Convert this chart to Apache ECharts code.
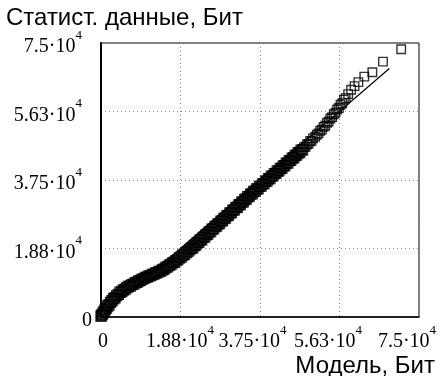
<!DOCTYPE html>
<html>
<head>
<meta charset="utf-8">
<script src="https://cdn.jsdelivr.net/npm/echarts@6/dist/echarts.min.js"></script>
<style>
  html, body { margin: 0; padding: 0; background: #fff; }
  #chart { width: 445px; height: 376px; }
</style>
</head>
<body>
<div id="chart"></div>
<script>
// Quantile pairs: model quantiles (x) against observed data quantiles (y), in bits.
const modelBits = [
  0, 150, 350, 550, 800, 1000, 1300, 1600, 1900, 2250, 2600, 2950, 3300, 3700, 4100, 4500, 4900, 5300, 5700, 6100,
  6500, 6900, 7300, 7700, 8100, 8500, 8900, 9300, 9700, 10100, 10500, 10900, 11300, 11700, 12100, 12500, 12900, 13300, 13700, 14100,
  14500, 14900, 15300, 15700, 16100, 16500, 16900, 17300, 17700, 18100, 18500, 18900, 19300, 19700, 20100, 20500, 20900,
  21300, 21650, 22000, 22350, 22700, 23050, 23400, 23750, 24100, 24450, 24800, 25150, 25500, 25850, 26200, 26550, 26900, 27250, 27600, 27950,
  28300, 28650, 29000, 29350, 29700, 30050, 30400, 30750, 31100, 31450, 31800, 32150, 32500, 32850, 33200, 33550, 33900, 34250, 34600, 34950,
  35300, 35650, 36000, 36350, 36700, 37050, 37400, 37750, 38100, 38450, 38800, 39150, 39500, 39850, 40200, 40550, 40900, 41250, 41600, 41950,
  42300, 42650, 43000, 43350, 43700, 44050, 44400, 44750, 45100, 45450, 45800, 46150, 46500, 46850, 47200, 47550, 47900, 48250, 48600, 48950,
  49300, 49650, 50000,
  50500, 50900, 51300, 51700, 52100, 52500, 52900, 53300, 53700, 54100, 54500, 54900, 55300, 55700, 56100, 56500, 56900, 57300, 57700,
  58300, 59000, 59800, 60700, 62100, 64000, 66500, 70800
];
const statBits = [
  200, 520, 800, 1240, 1600, 2080, 2430, 3010, 3370, 3990, 4460, 4980, 5270, 5840, 6200, 6760, 6980, 7400, 7620, 8050,
  8360, 8490, 8870, 9010, 9380, 9520, 9870, 10020, 10380, 10510, 10820, 10920, 11240, 11330, 11650, 11740, 12050, 12150, 12460, 12560,
  12920, 13130, 13550, 13760, 14180, 14370, 14810, 15000, 15430, 15640, 16140, 16400, 16890, 17150, 17650, 17900, 18400,
  18830, 18950, 19560, 19690, 20310, 20420, 21060, 21150, 21800, 21900, 22530, 22640, 23270, 23380, 24010, 24110, 24760, 24870, 25500, 25610,
  26240, 26350, 26980, 27080, 27720, 27830, 28460, 28570, 29210, 29310, 29950, 30050, 30700, 30790, 31430, 31530, 32180, 32280, 32920, 33020,
  33640, 33730, 34350, 34420, 35050, 35120, 35750, 35820, 36450, 36520, 37150, 37220, 37850, 37920, 38550, 38620, 39250, 39320, 39950, 40020,
  40650, 40720, 41350, 41430, 42070, 42150, 42790, 42860, 43500, 43580, 44220, 44300, 44940, 45020, 45690, 45800, 46490, 46600, 47290, 47400,
  48090, 48200, 48900,
  49300, 49900, 50250, 51000, 51300, 52050, 52350, 53150, 53500, 54350, 54700, 55500, 55900, 56800, 57200, 58100, 58500, 59500, 59900,
  61000, 62200, 63200, 64300, 65800, 67000, 69900, 73300
];
// Reference diagonal y = x
const refLine = [0, 68000];
// Tick mantissas; the ticks are k * 1.875·10^4
const tickLabels = ['0', '1.88', '3.75', '5.63', '7.5'];
// Sideways nudge of each x tick label, in pixels
const xLabelNudge = [2, -0.5, -7.5, -11.5, -12];
const tickStep = 18750;
const axisMax = 75000;
// The first points form the dense body of the plot, the rest the sparser upper part
const bodyCount = 133;

const gridBox = { left: 101, right: 26, top: 43, bottom: 59 };
const plotWidth = 445 - gridBox.left - gridBox.right;

const points = modelBits.map((x, i) => [x, statBits[i]]);
const tickValues = tickLabels.map((_, i) => i * tickStep);
const xLabelValues = tickValues.map((v, i) => v + xLabelNudge[i] * axisMax / plotWidth);

const serif = '"Liberation Serif", "DejaVu Serif", serif';
const sans = '"Liberation Sans", Arial, sans-serif';

// Rich styles for "m·10" with a raised exponent
function richFor(supRight) {
  return {
    m: { fontFamily: serif, fontSize: 20, lineHeight: 20, verticalAlign: 'bottom', color: '#000' },
    z: { fontFamily: serif, fontSize: 20, lineHeight: 28, verticalAlign: 'bottom', color: '#000' },
    s: { fontFamily: serif, fontSize: 13, lineHeight: 28, verticalAlign: 'top', color: '#000', padding: [0, supRight, 0, 0] }
  };
}
function tickText(v) {
  const i = Math.round(v / tickStep);
  if (i === 0) return '{z|0}';
  return '{m|' + tickLabels[i] + '·10}{s|4}';
}

const dotted = { color: '#8a8a8a', width: 1, type: [1, 3] };
const markStyle = (w) => ({ color: 'rgba(0,0,0,0)', borderColor: '#000', borderWidth: w });
const nameFont = { fontFamily: sans, fontSize: 24, fontWeight: 'normal', color: '#000' };

const chart = echarts.init(document.getElementById('chart'), null, { renderer: 'canvas' });
chart.setOption({
  animation: false,
  backgroundColor: '#fff',
  title: [
    { text: 'Статист. данные, Бит', left: 6, top: 6, padding: 0, textStyle: nameFont },
    { text: 'Модель, Бит', right: 10, top: 354, padding: 0, textStyle: nameFont }
  ],
  grid: Object.assign({
    show: true, borderColor: '#000', borderWidth: 1, backgroundColor: 'transparent'
  }, gridBox),
  xAxis: {
    type: 'value', min: 0, max: axisMax, interval: tickStep,
    axisLine: { show: true, onZero: false, lineStyle: { color: '#000', width: 1.5 } },
    axisTick: { show: false },
    splitLine: { show: true, lineStyle: dotted },
    axisLabel: { margin: 7, customValues: xLabelValues, hideOverlap: false, formatter: tickText, rich: richFor(0) }
  },
  yAxis: {
    type: 'value', min: 0, max: axisMax, interval: tickStep,
    axisLine: { show: true, onZero: false, lineStyle: { color: '#000', width: 2 } },
    axisTick: { show: false },
    splitLine: { show: true, lineStyle: dotted },
    axisLabel: { margin: 9, showMinLabel: true, showMaxLabel: true, formatter: tickText, rich: richFor(10) }
  },
  series: [
    {
      type: 'line',
      data: [[refLine[0], refLine[0]], [refLine[1], refLine[1]]],
      symbol: 'none',
      lineStyle: { color: '#000', width: 1.2 },
      z: 2
    },
    {
      type: 'scatter',
      data: points.slice(0, bodyCount),
      symbol: 'rect',
      symbolSize: 9.5,
      itemStyle: markStyle(1.9),
      z: 3
    },
    {
      type: 'scatter',
      data: points.slice(bodyCount),
      symbol: 'rect',
      symbolSize: 8.5,
      itemStyle: markStyle(1.4),
      z: 3
    }
  ]
});
</script>
</body>
</html>
